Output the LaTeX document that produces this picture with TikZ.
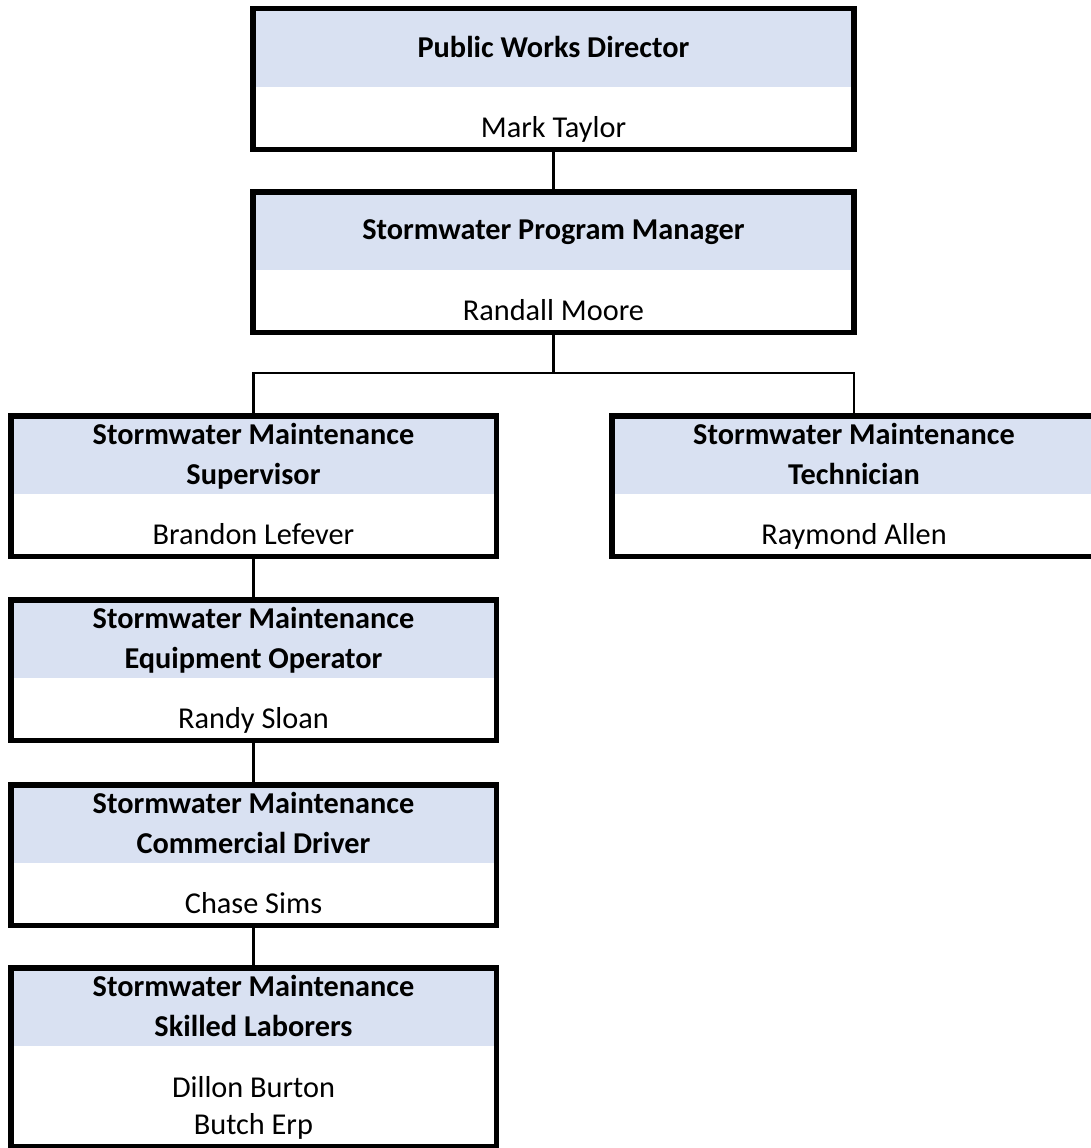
\documentclass[tikz,border=0pt]{standalone}
\usepackage{fontspec}
\setmainfont{Carlito}
\usepackage{xcolor}
\definecolor{bandblue}{HTML}{D9E1F2}
\tikzset{
        band/.style={fill=bandblue, minimum height=81pt, inner sep=0pt, align=center, anchor=north,
                text depth=0pt, font=\bfseries\fontsize{30.3}{40.5}\selectfont},
        person/.style={inner sep=0pt, align=center, font=\fontsize{30.3}{37.5}\selectfont},
        frame/.style={draw, line width=5.5pt, inner sep=0pt},
        link/.style={line width=2.5pt}
}

\begin{document}
\begin{tikzpicture}[x=1pt, y=-1pt]
        \useasboundingbox (0,0) rectangle (1091,1148);

        \node [band, minimum width=601pt] (pwdtitle) at (553.5,6) {Public Works Director};
        \node [person, anchor=base] (pwdname) at (553.5,137.5) {Mark Taylor};
        \node [frame, minimum width=601pt, minimum height=140.5pt] (pwd) at (553.5,79) {};

        \node [band, minimum width=601pt] (spmtitle) at (553.5,189) {Stormwater Program Manager};
        \node [person, anchor=base] (spmname) at (553.5,320.5) {Randall Moore};
        \node [frame, minimum width=601pt, minimum height=140.5pt] (spm) at (553.5,262) {};

        \node [band, minimum width=485.5pt] (suptitle) at (253.5,413) {Stormwater Maintenance\\Supervisor};
        \node [person, anchor=base] (supname) at (253.5,544.5) {Brandon Lefever};
        \node [frame, minimum width=485.5pt, minimum height=140.5pt] (sup) at (253.5,486) {};

        \node [band, minimum width=484pt] (tectitle) at (854,413) {Stormwater Maintenance\\Technician};
        \node [person, anchor=base] (tecname) at (854,544.5) {Raymond Allen};
        \node [frame, minimum width=484pt, minimum height=140.5pt] (tec) at (854,486) {};

        \node [band, minimum width=485.5pt] (eqptitle) at (253.5,597) {Stormwater Maintenance\\Equipment Operator};
        \node [person, anchor=base] (eqpname) at (253.5,728.5) {Randy Sloan};
        \node [frame, minimum width=485.5pt, minimum height=140.5pt] (eqp) at (253.5,670) {};

        \node [band, minimum width=485.5pt] (cdrtitle) at (253.5,782) {Stormwater Maintenance\\Commercial Driver};
        \node [person, anchor=base] (cdrname) at (253.5,913.5) {Chase Sims};
        \node [frame, minimum width=485.5pt, minimum height=140.5pt] (cdr) at (253.5,855) {};

        \node [band, minimum width=485.5pt] (skltitle) at (253.5,965) {Stormwater Maintenance\\Skilled Laborers};
        \node [person] (sklname) at (253.5,1108) {Dillon Burton\\Butch Erp};
        \node [frame, minimum width=485.5pt, minimum height=178.5pt] (skl) at (253.5,1057) {};

        \coordinate (split) at (553.5,373);
        \draw [link] (pwd.south) -- (spm.north);
        \draw [link] (spm.south) -- (split);
        \draw [link] (sup.north) |- (split) -| (tec.north);
        \draw [link] (sup.south) -- (eqp.north);
        \draw [link] (eqp.south) -- (cdr.north);
        \draw [link] (cdr.south) -- (skl.north);
\end{tikzpicture}
\end{document}
